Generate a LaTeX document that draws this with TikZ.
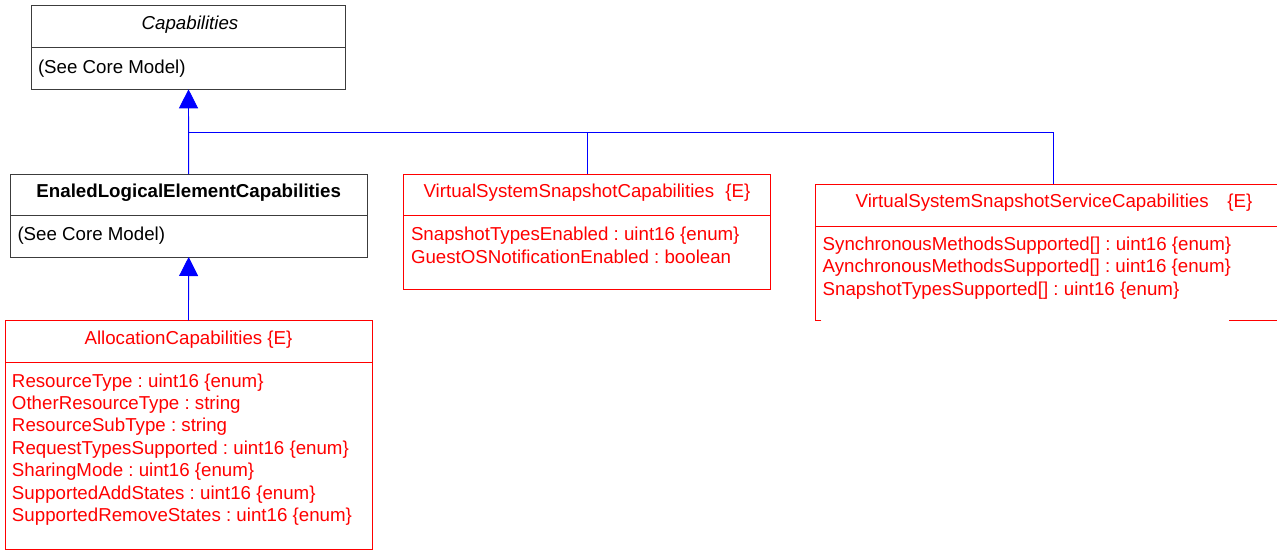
\documentclass[tikz,border=0pt]{standalone}
\usepackage{fontspec}
\setmainfont{Liberation Sans}
\usetikzlibrary{arrows.meta}
\frenchspacing
\definecolor{umlred}{RGB}{255,0,0}
\definecolor{umlblue}{RGB}{0,0,255}
\definecolor{umlgray}{RGB}{60,60,60}
\tikzset{
  boxshape/.style={rectangle, anchor=north west, inner sep=0pt, outer sep=0pt, line width=0.9pt},
  graybox/.style={boxshape, draw=umlgray},
  redbox/.style={boxshape, draw=umlred},
  txt/.style={inner sep=0pt, outer sep=0pt, font=\fontsize{18.7}{22.45}\selectfont\frenchspacing, align=left},
  redtxt/.style={txt, text=umlred},
  conn/.style={draw=umlblue, line width=0.9pt},
  gen/.style={conn, -{Triangle[width=19pt,length=19pt]}},
}
\begin{document}
\begin{tikzpicture}[x=1pt,y=-1pt]
\useasboundingbox (0,0) rectangle (1277,551);
\clip (0,0) rectangle (1277,551);
% boxes
\node[graybox, minimum width=314.4pt, minimum height=84pt] (cap) at (31.3,5.3) {};
\node[graybox, minimum width=356.7pt, minimum height=83pt] (elec) at (10.3,174) {};
\node[redbox, minimum width=367pt, minimum height=229pt] (alloc) at (5,320.3) {};
\node[redbox, minimum width=367.4pt, minimum height=115pt] (vssc) at (403.3,174) {};
\node[boxshape, minimum width=476.8pt, minimum height=135.7pt] (vsssc) at (815.3,184.3) {};
% partial border of the cut-off box
\draw[umlred, line width=0.9pt] ([xshift=6pt]vsssc.south west) -- (vsssc.south west) -- (vsssc.north west) -- (vsssc.north east);
\coordinate (vb) at (1229,320);
\draw[umlred, line width=0.9pt] (vb) -- (vb -| vsssc.east);
% dividers
\draw[umlgray, line width=0.9pt] (cap.west |- 0,47.3) -- (cap.east |- 0,47.3);
\draw[umlgray, line width=0.9pt] (elec.west |- 0,215.7) -- (elec.east |- 0,215.7);
\draw[umlred, line width=0.9pt] (alloc.west |- 0,362) -- (alloc.east |- 0,362);
\draw[umlred, line width=0.9pt] (vssc.west |- 0,215.7) -- (vssc.east |- 0,215.7);
\draw[umlred, line width=0.9pt] (vsssc.west |- 0,226) -- (vsssc.east |- 0,226);
% texts
\node[txt, anchor=base] (capt) at (190,30) {\itshape Capabilities};
\node[txt, anchor=base west] (capa) at (38,73.3) {(See Core Model)};
\node[txt, anchor=base] (elect) at (188.7,197.3) {\bfseries EnaledLogicalElementCapabilities};
\node[txt, anchor=base west] (eleca) at (17.5,240) {(See Core Model)};
\node[redtxt, anchor=base] (allt) at (188.5,344) {AllocationCapabilities \{E\}};
\node[redtxt, anchor=base west] (alla) at (12,521.7) {ResourceType : uint16 \{enum\}\\OtherResourceType : string\\ResourceSubType : string\\RequestTypesSupported : uint16 \{enum\}\\SharingMode : uint16 \{enum\}\\SupportedAddStates : uint16 \{enum\}\\SupportedRemoveStates : uint16 \{enum\}};
\node[redtxt, anchor=base] (vsst) at (587,197.3) {VirtualSystemSnapshotCapabilities\hspace{0.6em}\{E\}};
\node[redtxt, anchor=base west] (vssa) at (411,263) {SnapshotTypesEnabled : uint16 \{enum\}\\GuestOSNotificationEnabled : boolean};
\node[redtxt, anchor=base] (vssst) at (1054,207.7) {VirtualSystemSnapshotServiceCapabilities\hspace{1.0em}\{E\}};
\node[redtxt, anchor=base west] (vsssa) at (822.7,295) {SynchronousMethodsSupported[] : uint16 \{enum\}\\AynchronousMethodsSupported[] : uint16 \{enum\}\\SnapshotTypesSupported[] : uint16 \{enum\}};
% connectors
\coordinate (j) at (188.5,132);
\draw[gen] (elec.north) -- (cap.south);
\draw[gen] (alloc.north) -- (elec.south);
\draw[conn] (vssc.north) |- (j);
\draw[conn] (vsssc.north) |- (vssc.north |- j);
\end{tikzpicture}
\end{document}
